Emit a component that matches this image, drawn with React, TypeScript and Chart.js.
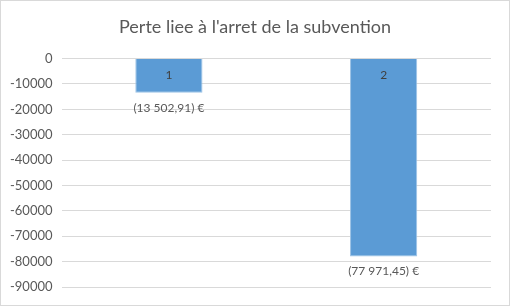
import React, { useEffect, useRef } from "react";
import { Chart, registerables } from "chart.js";

Chart.register(...registerables);

const categories = ["1", "2"];
const values = [-13502.91, -77971.45];
const yMin = -90000;
const yMax = 0;
const yStep = 10000;
const title = "Perte liee à l'arret de la subvention";

const FONT = "Lato, 'Open Sans', sans-serif";

function fmtEuro(v: number): string {
  const abs = Math.abs(v);
  const [ip, dp] = abs.toFixed(2).split(".");
  const grouped = ip.replace(/\B(?=(\d{3})+(?!\d))/g, " ");
  const s = grouped + "," + dp;
  return (v < 0 ? "(" + s + ")" : s) + " €";
}

const labelPlugin = {
  id: "barLabels",
  afterDatasetsDraw(chart: any) {
    const ctx = chart.ctx;
    const meta = chart.getDatasetMeta(0);
    ctx.save();
    ctx.textAlign = "center";
    ctx.textBaseline = "middle";
    meta.data.forEach((bar: any, i: number) => {
      const props = bar.getProps(["x", "y", "base"], true);
      const top = Math.min(props.y, props.base);
      const bottom = Math.max(props.y, props.base);
      ctx.fillStyle = "#404040";
      ctx.font = "12px " + FONT;
      ctx.fillText(categories[i], props.x, top + 16);
      ctx.fillStyle = "#595959";
      ctx.fillText(fmtEuro(values[i]), props.x, bottom + 15);
    });
    // centred title across the whole canvas
    const tb = chart.titleBlock;
    if (tb) {
      ctx.fillStyle = "#595959";
      ctx.font = "18px " + FONT;
      ctx.fillText(title, chart.width / 2, (tb.top + tb.bottom) / 2 - 3);
    }
    ctx.restore();
  },
};

export default function App() {
  const ref = useRef<HTMLCanvasElement | null>(null);
  useEffect(() => {
    document.body.style.margin = "0";
    if (!ref.current) return;
    const chart = new Chart(ref.current, {
      type: "bar",
      data: {
        labels: categories,
        datasets: [
          {
            data: values,
            backgroundColor: "#5B9BD5",
            borderColor: "#9DC3E6",
            borderWidth: 1,
            categoryPercentage: 1,
            barPercentage: 0.313,
          },
        ],
      },
      options: {
        responsive: false,
        animation: false,
        layout: { padding: { left: 0, right: 18, top: 0, bottom: 10 } },
        plugins: {
          legend: { display: false },
          tooltip: { enabled: false },
          title: {
            display: true,
            text: title,
            color: "rgba(0,0,0,0)",
            font: { family: FONT, size: 18, weight: "normal" },
            padding: { top: 18, bottom: 18 },
          },
        },
        scales: {
          x: {
            display: true,
            grid: { display: false },
            border: { display: false },
            ticks: { display: false },
          },
          y: {
            min: yMin,
            max: yMax,
            ticks: {
              stepSize: yStep,
              color: "#595959",
              font: { family: FONT, size: 13 },
              padding: 9,
              callback: (v: any) => String(v),
            },
            grid: { color: "#d9d9d9", lineWidth: 1, drawTicks: false },
            border: { display: false },
          },
        },
      },
      plugins: [labelPlugin],
    });
    return () => chart.destroy();
  }, []);
  return (
    <div style={{ width: 510, height: 306, boxSizing: "border-box", border: "1px solid #d9d9d9", background: "#fff" }}>
      <canvas ref={ref} width={508} height={304} style={{ display: "block" }} />
    </div>
  );
}
